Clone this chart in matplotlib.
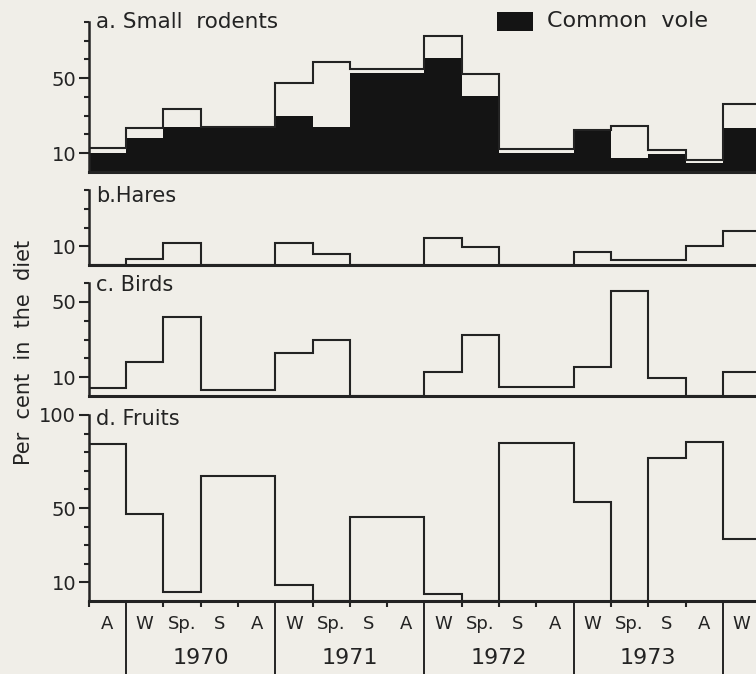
import matplotlib
matplotlib.use('Agg')
import matplotlib.pyplot as plt
import matplotlib.transforms as mtransforms
from matplotlib.lines import Line2D
from matplotlib.patches import Rectangle
import numpy as np

# ---------------- data (per cent in the diet, by season) ----------------
seasons = ['A', 'W', 'Sp.', 'S', 'A', 'W', 'Sp.', 'S', 'A',
           'W', 'Sp.', 'S', 'A', 'W', 'Sp.', 'S', 'A', 'W']
years = ['1970', '1971', '1972', '1973']

rodents_total = [13, 23.5, 33.5, 24, 24, 47.5, 58.5, 55, 55,
                 72.5, 52, 12, 12, 22.5, 24.5, 11.5, 6.5, 36]
common_vole = [10, 18, 24, 24, 24, 30, 24, 53, 53,
               61, 40.5, 10, 10, 22.5, 7.5, 9.5, 5, 23.5]
hares = [0, 3, 11.5, 0, 0, 11.5, 6, 0, 0,
         14.5, 9.5, 0, 0, 7, 2.5, 2.5, 10, 18]
birds = [4, 18, 42, 3, 3, 23, 30, 0, 0,
         12.5, 32.5, 5, 5, 15.5, 56, 9.5, 0, 12.5]
fruits = [84.5, 47, 5, 67, 67, 8.5, 0, 45, 45,
          3.5, 0, 85, 85, 53, 0, 77, 85.5, 33.5]

# ---------------- style ----------------
INK = '#232323'
BG = '#f0eee8'
plt.rcParams['font.family'] = ['DejaVu Sans']

W, H = 756, 674
fig = plt.figure(figsize=(W / 100, H / 100), dpi=100, facecolor=BG)

edges = np.arange(len(seasons) + 1)
LEFT_PX = 88.7
BIN_PX = 37.3
XMAX = (W - LEFT_PX) / BIN_PX


def rect(zero_px, top_px):
    return [LEFT_PX / W, 1 - zero_px / H, 1 - LEFT_PX / W, (zero_px - top_px) / H]


def make_panel(r, ymax, major, title, dy=0, tsize=15):
    ax = fig.add_axes(r)
    ax.patch.set_alpha(0)
    ax.set_xlim(0, XMAX)
    ax.set_ylim(0, ymax)
    for s in ['top', 'right']:
        ax.spines[s].set_visible(False)
    ax.spines['left'].set_linewidth(1.8)
    ax.spines['bottom'].set_linewidth(2.2)
    ax.spines['left'].set_color(INK)
    ax.spines['bottom'].set_color(INK)
    ax.set_yticks(major)
    ax.set_yticklabels([str(m) for m in major])
    ax.set_yticks(np.arange(10, ymax + 1, 10), minor=True)
    ax.tick_params(axis='y', which='major', direction='out', length=7, width=1.5,
                   labelsize=14, pad=2, colors=INK)
    ax.tick_params(axis='y', which='minor', direction='out', length=3.5, width=1.5,
                   colors=INK)
    ax.set_xticks([])
    ax.text(0.2, ymax - dy, title, fontsize=tsize, color=INK, va='center', ha='left',
            clip_on=False)
    return ax


# panel a
axa = make_panel(rect(172, 22), 80, [10, 50], 'a. Small  rodents', tsize=15.5)
axa.stairs(common_vole, edges, fill=True, color='#141414', baseline=0)
axa.stairs(rodents_total, edges, color=INK, lw=1.5, baseline=0)

# panel b
axb = make_panel(rect(265, 190), 40, [10], 'b.Hares', dy=3)
axb.stairs(hares, edges, color=INK, lw=1.5, baseline=0)

# panel c
axc = make_panel(rect(396, 283), 60, [10, 50], 'c. Birds', dy=1)
axc.stairs(birds, edges, color=INK, lw=1.5, baseline=0)

# panel d
axd = make_panel(rect(601, 415), 100, [10, 50, 100], 'd. Fruits', dy=2)
axd.stairs(fruits, edges, color=INK, lw=1.5, baseline=0)

# x axis of bottom panel
year_edges = [1, 5, 9, 13, 17]
tick_edges = [e for e in range(len(seasons)) if e not in year_edges]
axd.set_xticks(tick_edges)
axd.set_xticklabels([''] * len(tick_edges))
axd.tick_params(axis='x', which='major', direction='out', length=4.5, width=1.5, colors=INK)
centers = edges[:-1] + 0.5
axd.set_xticks(centers, minor=True)
axd.set_xticklabels(seasons, minor=True)
axd.tick_params(axis='x', which='minor', length=0, pad=10, labelsize=13, colors=INK)

trans = mtransforms.blended_transform_factory(axd.transData, fig.transFigure)
y_axis = 1 - 601 / H
for xe in year_edges:
    fig.add_artist(Line2D([xe, xe], [y_axis, 0], transform=trans, color=INK, lw=1.4,
                          clip_on=False))
for i, yr in enumerate(years):
    xc = (year_edges[i] + year_edges[i + 1]) / 2
    fig.text(xc, 1 - 658 / H, yr, transform=trans, ha='center', va='center',
             fontsize=16, color=INK)

# legend
fig.add_artist(Rectangle((497 / W, 1 - 31 / H), 36 / W, 19 / H, transform=fig.transFigure,
                         facecolor='#141414', edgecolor='none'))
fig.text(547 / W, 1 - 21 / H, 'Common  vole', fontsize=16, color=INK, va='center', ha='left')

# y label
fig.text(24 / W, 1 - 352 / H, 'Per  cent  in  the  diet', rotation=90, fontsize=15,
         color=INK, va='center', ha='center')

fig.savefig('out.png', dpi=100, facecolor=BG)
